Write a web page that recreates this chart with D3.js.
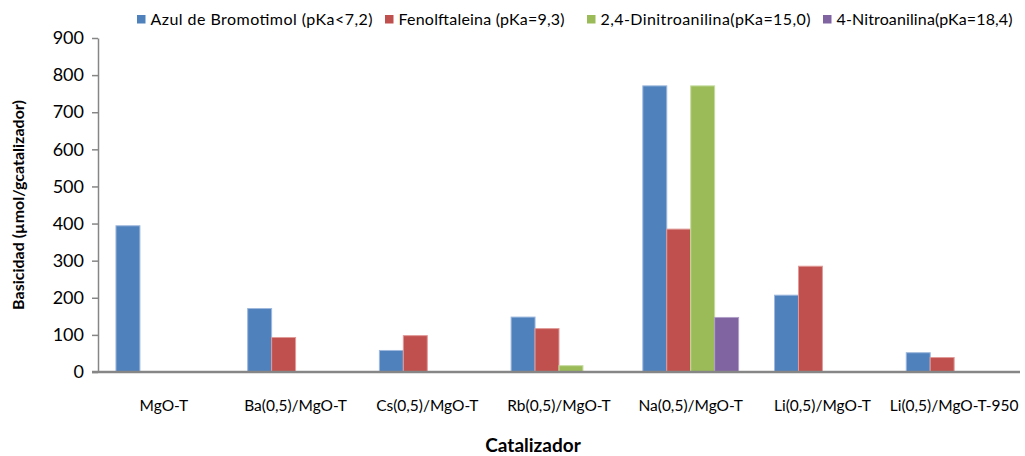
<!DOCTYPE html>
<html>
<head>
<meta charset="utf-8">
<script src="https://cdn.jsdelivr.net/npm/d3@7"></script>
<style>
  html, body { margin: 0; padding: 0; background: #fff; }
  svg { display: block; font-family: Lato, "Open Sans", sans-serif; }
</style>
</head>
<body>
<svg id="chart" width="1025" height="456"></svg>
<script>
// Catalysts on the x axis
const categories = ["MgO-T", "Ba(0,5)/MgO-T", "Cs(0,5)/MgO-T", "Rb(0,5)/MgO-T",
                    "Na(0,5)/MgO-T", "Li(0,5)/MgO-T", "Li(0,5)/MgO-T-950"];

// Indicator series (basicity, µmol/g catalyst)
const seriesNames = ["Azul de Bromotimol (pKa<7,2)", "Fenolftaleina (pKa=9,3)",
                     "2,4-Dinitroanilina(pKa=15,0)", "4-Nitroanilina(pKa=18,4)"];
const azulBromotimol   = [394, 171, 58, 148, 771, 207, 52];
const fenolftaleina    = [0, 93, 98, 117, 385, 285, 39];
const dinitroanilina   = [0, 0, 0, 17, 771, 0, 0];
const nitroanilina     = [0, 0, 0, 0, 147, 0, 0];
const seriesValues = [azulBromotimol, fenolftaleina, dinitroanilina, nitroanilina];

const yTicks = [0, 100, 200, 300, 400, 500, 600, 700, 800, 900];
const colors = ["#4F81BD", "#C0504D", "#9BBB59", "#8064A2"];
const edgeColors = ["#9db8dc", "#e09a98", "#c6dca0", "#b09fc8"];

const svg = d3.select("#chart");
const plotLeft = 98, plotRight = 1020, plotTop = 38, plotBottom = 372;

const x = d3.scaleBand().domain(categories).range([plotLeft, plotRight]).paddingInner(0).paddingOuter(0);
// four bars per group, 150% gap split evenly on both sides
const inner = d3.scaleBand().domain(d3.range(seriesNames.length))
  .range([0, x.bandwidth()]).paddingInner(0).paddingOuter(0.75);
const y = d3.scaleLinear().domain([0, 900]).range([plotBottom, plotTop]);

// bars
const groups = svg.append("g").selectAll("g")
  .data(categories)
  .join("g")
  .attr("transform", d => `translate(${x(d)},0)`);

groups.selectAll("rect")
  .data((c, ci) => seriesValues.map((vals, si) => ({ si, v: vals[ci] })).filter(d => d.v > 0))
  .join("rect")
  .attr("x", d => inner(d.si))
  .attr("width", inner.bandwidth())
  .attr("y", d => y(d.v))
  .attr("height", d => y(0) - y(d.v))
  .attr("fill", d => colors[d.si])
  .attr("stroke", d => edgeColors[d.si])
  .attr("stroke-width", 1);

// y axis
const yAxis = d3.axisLeft(y).tickValues(yTicks).tickSize(6).tickSizeOuter(0).tickPadding(8);
const gy = svg.append("g").attr("transform", `translate(${plotLeft},0)`).call(yAxis);
gy.select(".domain").attr("stroke", "#868686").attr("stroke-width", 1.5);
gy.selectAll(".tick line").attr("stroke", "#868686").attr("stroke-width", 1.5);
gy.selectAll(".tick text").attr("fill", "#000").attr("font-size", 18)
  .attr("font-family", "Lato, sans-serif");

// x axis
const xAxis = d3.axisBottom(x).tickSize(0).tickSizeOuter(0).tickPadding(28);
const gx = svg.append("g").attr("transform", `translate(0,${plotBottom})`).call(xAxis);
gx.select(".domain").attr("stroke", "#868686").attr("stroke-width", 2.5)
  .attr("d", `M${plotLeft - 6},0H${plotRight}`);
gx.selectAll(".tick text").attr("fill", "#000").attr("font-size", 15.5)
  .attr("font-family", "Lato, sans-serif");
// keep the last label inside the canvas
gx.selectAll(".tick text").each(function () {
  const bb = this.getBBox();
  const t = d3.select(this.parentNode).attr("transform");
  const tx = +t.match(/translate\(([-\d.]+)/)[1];
  const overflow = tx + bb.x + bb.width - 1022;
  if (overflow > 0) d3.select(this).attr("x", -overflow);
});

// axis titles
svg.append("text")
  .attr("transform", `translate(24,${(plotTop + plotBottom) / 2}) rotate(-90)`)
  .attr("text-anchor", "middle")
  .attr("font-size", 16).attr("font-weight", "bold")
  .text("Basicidad  (µmol/gcatalizador)");

svg.append("text")
  .attr("x", 533).attr("y", 452)
  .attr("text-anchor", "middle")
  .attr("font-size", 19).attr("font-weight", "bold")
  .text("Catalizador");

// legend: swatch positions and text widths of each entry
const legendX = [137, 385, 587, 823];
const legendTextWidth = [222, 166, 210, 176];
const legend = svg.append("g").selectAll("g")
  .data(seriesNames)
  .join("g")
  .attr("transform", (d, i) => `translate(${legendX[i]},15)`);
legend.append("rect").attr("width", 8.5).attr("height", 8.5)
  .attr("fill", (d, i) => colors[i]);
legend.append("text").attr("x", 13.5).attr("y", 10)
  .attr("font-size", 16)
  .attr("textLength", (d, i) => legendTextWidth[i])
  .attr("lengthAdjust", "spacing")
  .text(d => d);
</script>
</body>
</html>
